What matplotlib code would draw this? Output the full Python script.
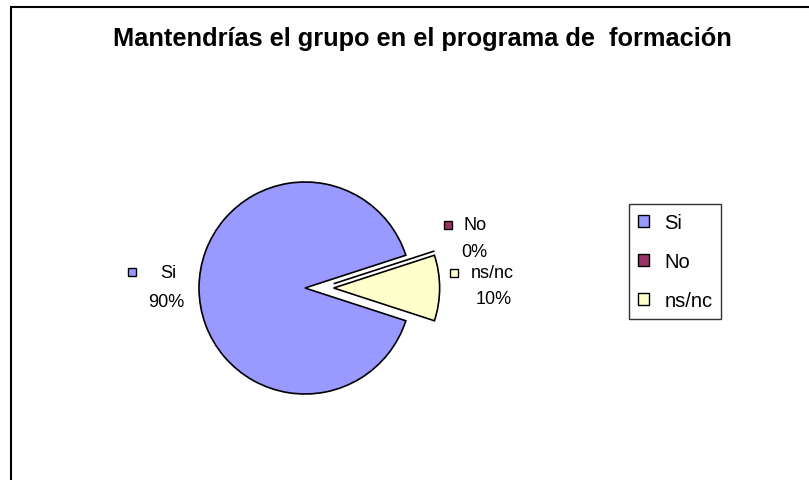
import numpy as np
import matplotlib
matplotlib.use('Agg')
import matplotlib.pyplot as plt
from matplotlib.patches import Rectangle
from matplotlib.transforms import offset_copy

# data
labels = ['Si', 'No', 'ns/nc']
values = [90, 0, 10]
pct_text = ['90%', '0%', '10%']
title = 'Mantendrías el grupo en el programa de  formación'

# style
colors = ['#9999FF', '#993366', '#FFFFCC']
explode = [0.0, 0.27, 0.27]
font = 'Liberation Sans'

W, H = 809, 481
cx, cy, r = 305, 289, 106   # pie centre / radius in pixels

fig = plt.figure(figsize=(W / 100, H / 100), dpi=100)
fig.patch.set_facecolor('white')
ax = fig.add_axes([0, 0, 1, 1])

wedges, _ = ax.pie(values, colors=colors, explode=explode, startangle=342,
                   counterclock=False, radius=1,
                   wedgeprops=dict(edgecolor='black', linewidth=1.2))
# the empty "No" slice sits just above the exploded ns/nc slice, like Excel draws it
nx, ny = wedges[2].center
wedges[1].set_center((nx, ny + 0.04))

ax.set_xlim(-cx / r, (W - cx) / r)
ax.set_ylim(-(H - cy) / r, cy / r)
ax.set_aspect('auto')
ax.axis('off')

# label offsets (pixels) from anchor: square, name, percent
offs = [((-56, 16), (-20, 16), (-22, -13)),
        ((3, 23), (31, 23), (30, -4)),
        ((4, 15), (42, 15), (43, -11))]

for i, w in enumerate(wedges):
    mid = np.deg2rad((w.theta1 + w.theta2) / 2)
    ax_x = w.center[0] + 1.1 * np.cos(mid)
    ax_y = w.center[1] + 1.1 * np.sin(mid)
    sq, nm, pc = offs[i]
    t = offset_copy(ax.transData, fig=fig, x=sq[0], y=sq[1], units='dots')
    ax.plot([ax_x], [ax_y], marker='s', markersize=6, markerfacecolor=colors[i],
            markeredgecolor='black', markeredgewidth=1, transform=t, clip_on=False)
    t = offset_copy(ax.transData, fig=fig, x=nm[0], y=nm[1], units='dots')
    ax.text(ax_x, ax_y, labels[i], transform=t, ha='center', va='center',
            fontsize=13, family=font)
    t = offset_copy(ax.transData, fig=fig, x=pc[0], y=pc[1], units='dots')
    ax.text(ax_x, ax_y, pct_text[i], transform=t, ha='center', va='center',
            fontsize=13, family=font)

leg = fig.legend(wedges, labels, loc='upper left',
                 bbox_to_anchor=(629 / W, 1 - 205 / H), borderaxespad=0,
                 frameon=True, fancybox=False, shadow=False,
                 handlelength=0.55, handleheight=0.55, handletextpad=0.75,
                 labelspacing=1.0, borderpad=0.45,
                 prop=dict(family=font, size=14.5))
leg.get_frame().set_edgecolor('black')
leg.get_frame().set_linewidth(1.0)
for h in leg.legend_handles:
    h.set_linewidth(1.0)

fig.text(422 / W, 1 - 39 / H, title, ha='center', va='center',
         fontsize=18.3, fontweight='bold', family=font)

# outer chart frame (right and bottom edges fall outside the image)
fig.patches.append(Rectangle((11 / W, -0.1), 1.2, 1 - 8 / H + 0.1,
                             transform=fig.transFigure, fill=False,
                             edgecolor='black', linewidth=1.5))

fig.savefig('out.png', dpi=100)
